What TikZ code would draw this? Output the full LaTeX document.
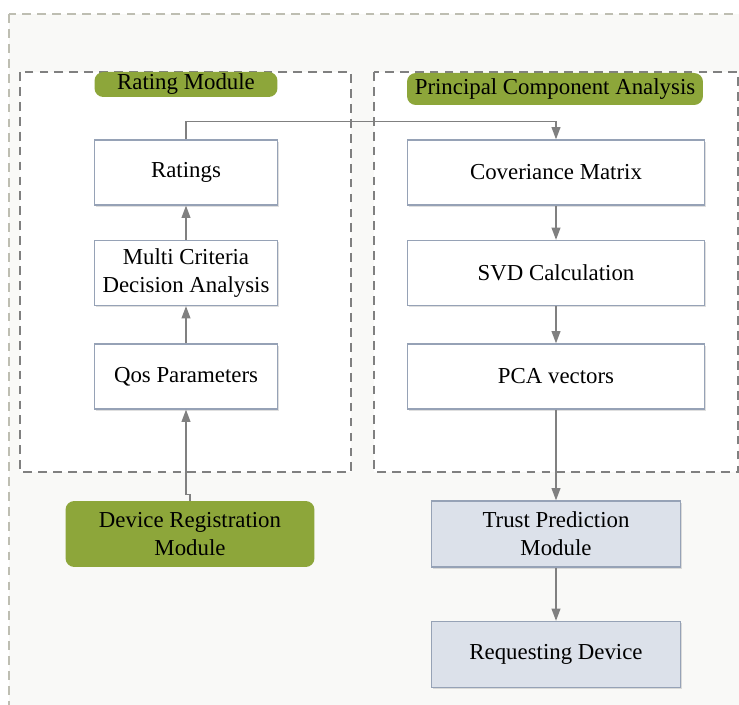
\documentclass[tikz,border=0pt]{standalone}
\usepackage{fontspec}
\setmainfont{Liberation Serif}
\usetikzlibrary{arrows.meta,shadows}
\definecolor{boxline}{RGB}{150,162,182}
\definecolor{predfill}{RGB}{220,225,234}
\definecolor{tagfill}{RGB}{141,166,58}
\definecolor{linegray}{RGB}{128,128,128}
\definecolor{framegray}{RGB}{190,190,178}
\definecolor{backfill}{RGB}{249,249,247}

\begin{document}
\begin{tikzpicture}[x=0.02cm,y=-0.02cm,
  box/.style={draw=boxline,line width=0.7pt,fill=white,minimum width=3.66cm,minimum height=1.3cm,inner sep=0pt,align=center,font=\fontsize{13}{16}\selectfont,drop shadow={shadow xshift=1pt,shadow yshift=-1pt,opacity=0.25}},
  widebox/.style={box,minimum width=5.94cm},
  predbox/.style={box,fill=predfill,minimum width=4.98cm,minimum height=1.32cm},
  tag/.style={fill=tagfill,rounded corners=5pt,inner sep=0pt,align=center,font=\fontsize{13}{16}\selectfont},
  group/.style={draw=linegray,dash pattern=on 5pt off 3.5pt,line width=0.6pt,fill=white},
  arr/.style={draw=linegray,line width=0.9pt,-{Triangle[length=7pt,width=5pt]}}
]
  \useasboundingbox (0,0) rectangle (739,705);
  % background frame
  \draw[draw=framegray,fill=backfill,dash pattern=on 5pt off 3.5pt,line width=0.6pt] (9,14) rectangle (760,730);
  \draw[group] (20,72) rectangle (351,472);
  \draw[group] (374,72) rectangle (738,472);
  % group titles
  \node[tag,minimum width=3.66cm,minimum height=0.5cm] (ratetag) at (186,84.5) {Rating Module};
  \node[tag,minimum width=5.92cm,minimum height=0.64cm] (pcatag) at (555,89) {Principal Component Analysis};
  % rating module
  \node[box] (ratings) at (186,172.5) {Ratings};
  \node[box] (mcda) at (186,273) {Multi Criteria\\Decision Analysis};
  \node[box] (qos) at (186,376.5) {Qos Parameters};
  % pca
  \node[widebox] (cov) at (556,172.5) {Coveriance Matrix};
  \node[widebox] (svd) at (556,273) {SVD Calculation};
  \node[widebox] (pcav) at (556,376.5) {PCA vectors};
  % lower blocks
  \node[tag,minimum width=4.98cm,minimum height=1.32cm] (devreg) at (190,534) {Device Registration\\Module};
  \node[predbox] (trust) at (556,534) {Trust Prediction\\Module};
  \node[predbox] (req) at (556,654.5) {Requesting Device};
  % connectors
  \draw[arr] (qos) -- (mcda);
  \draw[arr] (mcda) -- (ratings);
  \draw[arr] (devreg.north) -- ++(0,-6) -| (qos.south);
  \draw[arr] (ratings.north) -- ++(0,-18) -| (cov.north);
  \draw[arr] (cov) -- (svd);
  \draw[arr] (svd) -- (pcav);
  \draw[arr] (pcav) -- (trust);
  \draw[arr] (trust) -- (req);
\end{tikzpicture}
\end{document}
